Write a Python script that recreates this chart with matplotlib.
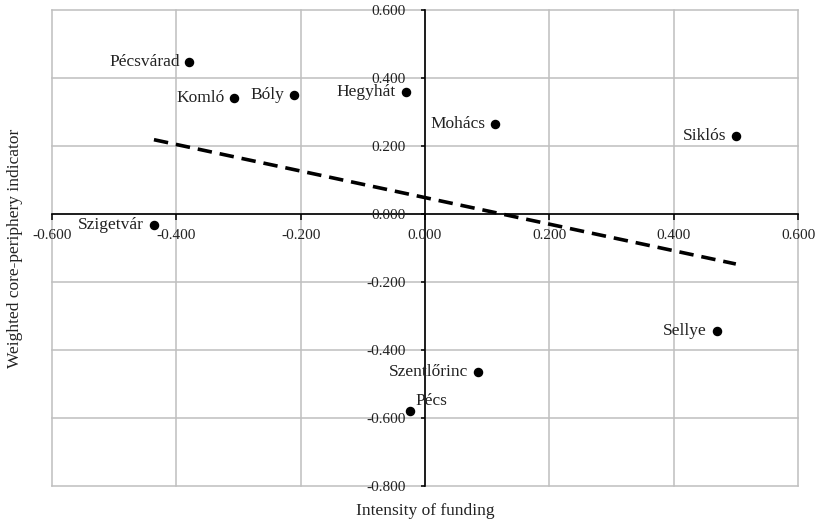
import numpy as np
import matplotlib.pyplot as plt
from matplotlib.ticker import FormatStrFormatter

plt.rcParams['font.family'] = ['Liberation Serif', 'DejaVu Serif']
plt.rcParams['axes.unicode_minus'] = False

# settlements (funding intensity, weighted core-periphery indicator)
names = ['Pécsvárad', 'Komló', 'Bóly', 'Hegyhát', 'Mohács', 'Siklós',
         'Szigetvár', 'Sellye', 'Szentlőrinc', 'Pécs']
funding = [-0.379, -0.307, -0.211, -0.031, 0.113, 0.500,
           -0.436, 0.469, 0.085, -0.024]
core_periph = [0.446, 0.340, 0.349, 0.359, 0.266, 0.228,
               -0.031, -0.343, -0.466, -0.579]

xticks = [-0.6, -0.4, -0.2, 0.0, 0.2, 0.4, 0.6]
yticks = [-0.8, -0.6, -0.4, -0.2, 0.0, 0.2, 0.4, 0.6]

fig = plt.figure(figsize=(8.16, 5.2), dpi=100)
ax = fig.add_axes([52/816, 1 - 486/520, (798 - 52)/816, (486 - 10)/520])

ax.set_xlim(-0.6, 0.6)
ax.set_ylim(-0.8, 0.6)
ax.set_xticks(xticks)
ax.set_yticks(yticks)
ax.xaxis.set_major_formatter(FormatStrFormatter('%.3f'))
ax.yaxis.set_major_formatter(FormatStrFormatter('%.3f'))

# gridlines incl. the outer frame
for v in xticks:
    ax.axvline(v, color='#BFBFBF', lw=1.1, zorder=0, clip_on=False)
for v in yticks:
    ax.axhline(v, color='#BFBFBF', lw=1.1, zorder=0, clip_on=False)

for s in ['top', 'right']:
    ax.spines[s].set_visible(False)
ax.spines['left'].set_position(('data', 0))
ax.spines['bottom'].set_position(('data', 0))
ax.spines['left'].set_linewidth(1.2)
ax.spines['bottom'].set_linewidth(1.2)
ax.spines['left'].set_zorder(1)
ax.spines['bottom'].set_zorder(1)

ax.tick_params(axis='x', direction='out', length=4, width=1.1, pad=7,
               labelsize=11, colors='black', labelcolor='#222222')
ax.tick_params(axis='y', direction='out', length=3, width=1.1, pad=11,
               labelsize=11, colors='black', labelcolor='#222222')

ax.scatter(funding, core_periph, s=34, color='black', zorder=4)

# linear trendline
k, b = np.polyfit(funding, core_periph, 1)
xl = np.array([min(funding), max(funding)])
line, = ax.plot(xl, k * xl + b, color='black', lw=2.6, zorder=3)
line.set_dashes((4, 2.2))

for n, x, y in zip(names, funding, core_periph):
    if n == 'Pécs':
        ax.annotate(n, (x, y), xytext=(4, 7), textcoords='offset points',
                    ha='left', va='center', fontsize=12.5, color='#222222', zorder=5)
    else:
        ax.annotate(n, (x, y), xytext=(-7, 0), textcoords='offset points',
                    ha='right', va='center', fontsize=12.5, color='#222222', zorder=5)

ax.text(0.5, -0.035, 'Intensity of funding', transform=ax.transAxes,
        ha='center', va='top', fontsize=12.5, color='#222222')
ax.text(-0.05, 0.5, 'Weighted core-periphery indicator', transform=ax.transAxes,
        ha='center', va='center', rotation=90, fontsize=12.5, color='#222222')

fig.savefig('out.png', dpi=100)
